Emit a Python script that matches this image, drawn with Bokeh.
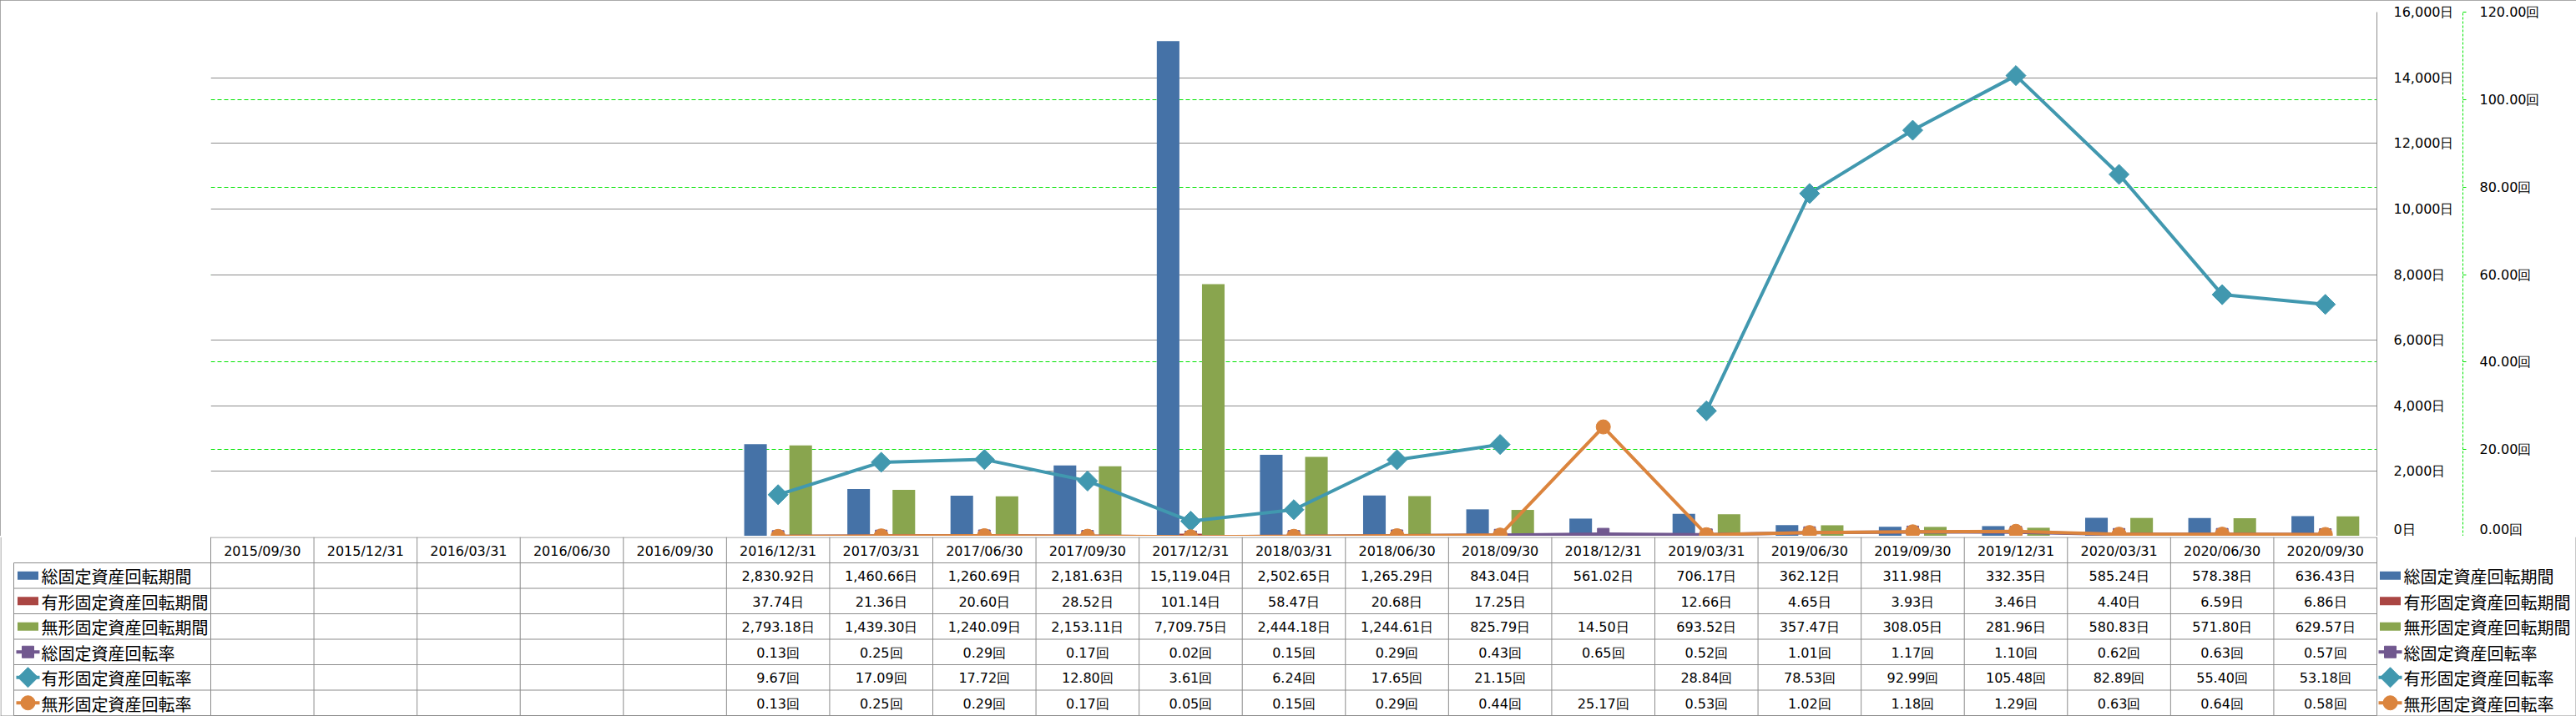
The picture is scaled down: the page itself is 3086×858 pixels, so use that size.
import math
from bokeh.plotting import figure
from bokeh.models import (Range1d, LinearAxis, FixedTicker, CustomJSTickFormatter, Grid,
                          ColumnDataSource)
from bokeh.embed import file_html
from bokeh.resources import INLINE
from bokeh.core.properties import value

NaN = float("nan")

# ---------------- data ----------------
dates = ["2015/09/30", "2015/12/31", "2016/03/31", "2016/06/30", "2016/09/30",
         "2016/12/31", "2017/03/31", "2017/06/30", "2017/09/30", "2017/12/31",
         "2018/03/31", "2018/06/30", "2018/09/30", "2018/12/31", "2019/03/31",
         "2019/06/30", "2019/09/30", "2019/12/31", "2020/03/31", "2020/06/30",
         "2020/09/30"]

total_days = [None, None, None, None, None, 2830.92, 1460.66, 1260.69, 2181.63, 15119.04,
              2502.65, 1265.29, 843.04, 561.02, 706.17, 362.12, 311.98, 332.35, 585.24,
              578.38, 636.43]
tangible_days = [None, None, None, None, None, 37.74, 21.36, 20.60, 28.52, 101.14,
                 58.47, 20.68, 17.25, None, 12.66, 4.65, 3.93, 3.46, 4.40, 6.59, 6.86]
intangible_days = [None, None, None, None, None, 2793.18, 1439.30, 1240.09, 2153.11, 7709.75,
                   2444.18, 1244.61, 825.79, 14.50, 693.52, 357.47, 308.05, 281.96, 580.83,
                   571.80, 629.57]
total_rate = [None, None, None, None, None, 0.13, 0.25, 0.29, 0.17, 0.02, 0.15, 0.29, 0.43,
              0.65, 0.52, 1.01, 1.17, 1.10, 0.62, 0.63, 0.57]
tangible_rate = [None, None, None, None, None, 9.67, 17.09, 17.72, 12.80, 3.61, 6.24, 17.65,
                 21.15, None, 28.84, 78.53, 92.99, 105.48, 82.89, 55.40, 53.18]
intangible_rate = [None, None, None, None, None, 0.13, 0.25, 0.29, 0.17, 0.05, 0.15, 0.29,
                   0.44, 25.17, 0.53, 1.02, 1.18, 1.29, 0.63, 0.64, 0.58]

names = ["総固定資産回転期間", "有形固定資産回転期間", "無形固定資産回転期間",
         "総固定資産回転率", "有形固定資産回転率", "無形固定資産回転率"]
units = ["日", "日", "日", "回", "回", "回"]
colors = ["#4572A7", "#AA4643", "#89A54E", "#71588F", "#4198AF", "#DB843D"]

days_ticks = [0, 2000, 4000, 6000, 8000, 10000, 12000, 14000, 16000]
rate_ticks = [0, 20, 40, 60, 80, 100, 120]

# ---------------- layout constants ----------------
W = 3086
FRAME_L = 252
FRAME_W = 2595
FRAME_R = W - FRAME_L - FRAME_W
FRAME_T = 14
FRAME_H = 629
TABLE_H = 215
HEADER_H = 31
ROW_H = 30.5
GRID_GREY = "#8c8c8c"
GREEN = "#00E400"
BAR_W = 0.219
FONT_NUM = "DejaVu Sans"
FONT_JP = "Noto Sans CJK JP"

n = len(dates)
xs = list(range(n))


def nz(v):
    return NaN if v is None else v


# ---------------- chart ----------------
p = figure(width=W, height=FRAME_T + FRAME_H,
           x_range=Range1d(-0.5, n - 0.5), y_range=Range1d(0, days_ticks[-1]),
           x_axis_type=None, y_axis_type=None,
           output_backend="svg", toolbar_location=None,
           min_border_left=FRAME_L, min_border_right=FRAME_R,
           min_border_top=FRAME_T, min_border_bottom=0,
           outline_line_color=None,
           styles={"outline": "1px solid #8c8c8c", "outline-offset": "-1px",
                   "clip-path": "inset(0px 0px 1px 0px)"})
p.extra_y_ranges = {"rate": Range1d(0, rate_ticks[-1])}

ax1 = LinearAxis(ticker=FixedTicker(ticks=days_ticks),
                 formatter=CustomJSTickFormatter(code="return tick.toLocaleString('en-US') + '日'"),
                 axis_line_color=GRID_GREY, major_tick_line_color=None, minor_tick_line_color=None,
                 major_tick_out=0, major_tick_in=0, major_label_standoff=20,
                 major_label_text_font=FONT_NUM, major_label_text_font_size="16px",
                 major_label_text_color="#000000",
                 axis_label=" ", axis_label_text_font_size="1px", axis_label_standoff=4)
p.add_layout(ax1, "right")
ax2 = LinearAxis(y_range_name="rate", ticker=FixedTicker(ticks=rate_ticks),
                 formatter=CustomJSTickFormatter(code="return tick.toFixed(2) + '回'"),
                 axis_line_color=GREEN, axis_line_dash="3 2",
                 major_tick_line_color=GREEN, major_tick_out=4, major_tick_in=0,
                 minor_tick_line_color=None, major_label_standoff=16,
                 major_label_text_font=FONT_NUM, major_label_text_font_size="16px",
                 major_label_text_color="#000000")
p.add_layout(ax2, "right")

p.add_layout(Grid(dimension=1, y_range_name="rate",
                  ticker=FixedTicker(ticks=rate_ticks[1:-1]),
                  grid_line_color=GREEN, grid_line_dash="5 3", grid_line_width=1))
p.add_layout(Grid(dimension=1, ticker=FixedTicker(ticks=days_ticks),
                  grid_line_color=GRID_GREY, grid_line_width=1))

bar_series = [total_days, tangible_days, intangible_days]
offsets = [-BAR_W, 0.0, BAR_W]
for vals, off, col in zip(bar_series, offsets, colors[:3]):
    src = ColumnDataSource(dict(x=[x + off for x in xs], top=[nz(v) for v in vals]))
    p.vbar(x="x", top="top", bottom=0, width=BAR_W, source=src,
           fill_color=col, line_color=None)

line_series = [total_rate, tangible_rate, intangible_rate]
markers = [("square", 0.0, 14), ("square", math.pi / 4, 17), ("circle", 0.0, 17)]
for vals, (mk, ang, sz), col in zip(line_series, markers, colors[3:]):
    src = ColumnDataSource(dict(x=xs, y=[nz(v) for v in vals]))
    p.line(x="x", y="y", source=src, y_range_name="rate", line_color=col, line_width=4)
    p.scatter(x="x", y="y", source=src, y_range_name="rate", marker=mk, angle=ang,
              size=sz, fill_color=col, line_color=col)

# ---------------- data table ----------------
ppu = FRAME_W / n
tx0 = -0.5 - FRAME_L / ppu
tx1 = n - 0.5 + FRAME_R / ppu


def xd(px):
    return tx0 + px / ppu


t = figure(width=W, height=TABLE_H, x_range=Range1d(tx0, tx1), y_range=Range1d(TABLE_H, 0),
           x_axis_type=None, y_axis_type=None, output_backend="svg", toolbar_location=None,
           min_border=0, outline_line_color=None)

# grid lines of table
hx0, hy0, hx1, hy1 = [], [], [], []
hx0.append(-0.5); hx1.append(n - 0.5); hy0.append(0.5); hy1.append(0.5)
for i in range(7):
    yy = HEADER_H + i * ROW_H
    hx0.append(xd(16)); hx1.append(n - 0.5); hy0.append(yy); hy1.append(yy)
for k in range(n + 1):
    hx0.append(-0.5 + k); hx1.append(-0.5 + k); hy0.append(0); hy1.append(HEADER_H + 6 * ROW_H)
hx0.append(xd(16)); hx1.append(xd(16)); hy0.append(HEADER_H); hy1.append(HEADER_H + 6 * ROW_H)
t.segment(x0=hx0, y0=hy0, x1=hx1, y1=hy1, line_color=GRID_GREY, line_width=1)

# outer border of the chart area (left, right, bottom)
t.segment(x0=[xd(0.5), xd(W - 0.5), xd(0)], y0=[0, 0, TABLE_H - 0.5],
          x1=[xd(0.5), xd(W - 0.5), xd(W)], y1=[TABLE_H, TABLE_H, TABLE_H - 0.5],
          line_color=GRID_GREY, line_width=1)

# header
t.text(x=xs, y=[HEADER_H / 2 + 1] * n, text=dates, text_align="center",
       text_baseline="middle", text_font=value(FONT_NUM), text_font_size="16px",
       text_color="#000000")

all_series = [total_days, tangible_days, intangible_days, total_rate, tangible_rate,
              intangible_rate]
for r, (vals, unit) in enumerate(zip(all_series, units)):
    yc = HEADER_H + (r + 0.5) * ROW_H + 1
    labels = ["" if v is None else f"{v:,.2f}{unit}" for v in vals]
    t.text(x=xs, y=[yc] * n, text=labels, text_align="center", text_baseline="middle",
           text_font=value(FONT_NUM), text_font_size="16px", text_color="#000000")


def legend_key(kind_idx, cx_px, yc):
    col = colors[kind_idx]
    if kind_idx < 3:
        t.rect(x=[xd(cx_px)], y=[yc], width=25 / ppu, height=10, fill_color=col, line_color=None)
    else:
        mk, ang, sz = markers[kind_idx - 3]
        t.segment(x0=[xd(cx_px - 14)], y0=[yc], x1=[xd(cx_px + 14)], y1=[yc],
                  line_color=col, line_width=4)
        t.scatter(x=[xd(cx_px)], y=[yc], marker=mk, angle=ang, size=sz,
                  fill_color=col, line_color=col)


for r in range(6):
    yc = HEADER_H + (r + 0.5) * ROW_H
    # left (table) legend
    legend_key(r, 33, yc)
    t.text(x=[xd(49)], y=[yc + 1], text=[names[r]], text_align="left", text_baseline="middle",
           text_font=value(FONT_JP), text_font_size="20px", text_color="#000000")
    # right legend
    legend_key(r, 2863, yc)
    t.text(x=[xd(2879)], y=[yc + 1], text=[names[r]], text_align="left",
           text_baseline="middle", text_font=value(FONT_JP), text_font_size="20px",
           text_color="#000000")

open("out.html", "w").write(file_html([p, t], INLINE))
